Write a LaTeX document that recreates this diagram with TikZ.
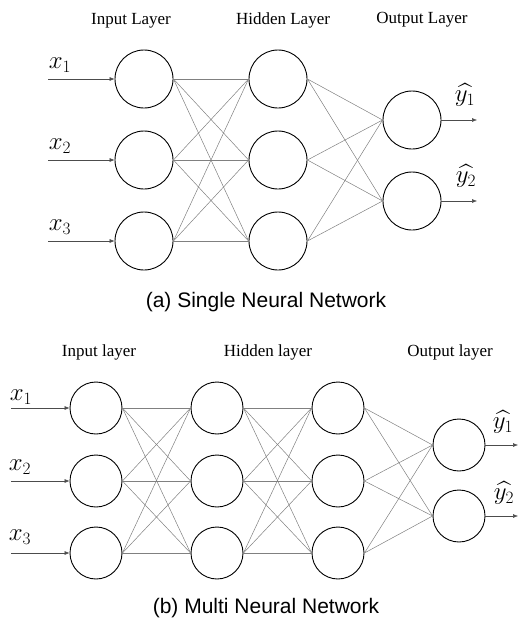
\documentclass[tikz,border=0pt]{standalone}
\usepackage{fontspec}
\usepackage{amsmath}
\setmainfont{Liberation Serif}
\newfontfamily\capfont{Liberation Sans}
\usetikzlibrary{arrows.meta}

\tikzset{
  neuron/.style={draw, circle, line width=0.9pt, minimum size=58pt, inner sep=0pt},
  mneuron/.style={neuron, minimum size=52pt},
  wire/.style={draw=gray, line width=0.5pt},
  feed/.style={draw=black!70, line width=0.5pt, -{Latex[length=5pt,width=4pt]}},
  layertitle/.style={font=\fontsize{17}{19}\selectfont},
  sig/.style={font=\fontsize{26}{28}\selectfont, inner sep=0pt},
  caption/.style={font=\capfont\fontsize{21}{24}\selectfont}
}

\begin{document}
\begin{tikzpicture}[x=1pt,y=-1pt]
  \useasboundingbox (0,0) rectangle (531,621);

  % (a) single network
  \node[layertitle] (tIn) at (131,21) {Input Layer};
  \node[layertitle] (tHid) at (283,20) {Hidden Layer};
  \node[layertitle] (tOut) at (422,20) {Output Layer};

  \node[neuron] (in1) at (144,79) {};
  \node[neuron] (in2) at (144,160) {};
  \node[neuron] (in3) at (144,241) {};
  \node[neuron] (hid1) at (278,79) {};
  \node[neuron] (hid2) at (278,160) {};
  \node[neuron] (hid3) at (278,241) {};
  \node[neuron] (out1) at (412,120) {};
  \node[neuron] (out2) at (412,201) {};

  \foreach \i in {1,2,3}
    \foreach \j in {1,2,3}
      \draw[wire] (in\i.east) -- (hid\j.west);
  \foreach \j in {1,2,3}
    \foreach \k in {1,2}
      \draw[wire] (hid\j.east) -- (out\k.west);

  \coordinate (xs1) at (48,79);
  \coordinate (xs2) at (48,160);
  \coordinate (xs3) at (48,241);
  \coordinate (ye1) at (477,120);
  \coordinate (ye2) at (477,201);
  \foreach \i in {1,2,3}
    \draw[feed] (xs\i) -- (in\i.west);
  \foreach \k in {1,2}
    \draw[feed] (out\k.east) -- (ye\k);

  \node[sig] (x1) at (60,65) {$x_1$};
  \node[sig] (x2) at (60,146) {$x_2$};
  \node[sig] (x3) at (60,227) {$x_3$};
  \node[sig] (y1) at (465,95) {$\widehat{y_1}$};
  \node[sig] (y2) at (466,176) {$\widehat{y_2}$};

  \node[caption] (capA) at (266,302) {(a) Single Neural Network};

  % (b) multi network
  \node[layertitle] (mtIn) at (99,352) {Input layer};
  \node[layertitle] (mtHid) at (268,352) {Hidden layer};
  \node[layertitle] (mtOut) at (450,352) {Output layer};

  \node[mneuron] (mIn1) at (96,408) {};
  \node[mneuron] (mIn2) at (96,481) {};
  \node[mneuron] (mIn3) at (96,553) {};
  \node[mneuron] (mHa1) at (217,408) {};
  \node[mneuron] (mHa2) at (217,481) {};
  \node[mneuron] (mHa3) at (217,553) {};
  \node[mneuron] (mHb1) at (338,408) {};
  \node[mneuron] (mHb2) at (338,481) {};
  \node[mneuron] (mHb3) at (338,553) {};
  \node[mneuron] (mOut1) at (459,445) {};
  \node[mneuron] (mOut2) at (459,516) {};

  \foreach \i in {1,2,3}
    \foreach \j in {1,2,3} {
      \draw[wire] (mIn\i.east) -- (mHa\j.west);
      \draw[wire] (mHa\i.east) -- (mHb\j.west);
    }
  \foreach \j in {1,2,3}
    \foreach \k in {1,2}
      \draw[wire] (mHb\j.east) -- (mOut\k.west);

  \coordinate (mxs1) at (11,408);
  \coordinate (mxs2) at (11,481);
  \coordinate (mxs3) at (11,553);
  \coordinate (mye1) at (518,445);
  \coordinate (mye2) at (518,516);
  \foreach \i in {1,2,3}
    \draw[feed] (mxs\i) -- (mIn\i.west);
  \foreach \k in {1,2}
    \draw[feed] (mOut\k.east) -- (mye\k);

  \node[sig] (mx1) at (21,397) {$x_1$};
  \node[sig] (mx2) at (20,467) {$x_2$};
  \node[sig] (mx3) at (20,537) {$x_3$};
  \node[sig] (my1) at (503,422) {$\widehat{y_1}$};
  \node[sig] (my2) at (504,493) {$\widehat{y_2}$};

  \node[caption] (capB) at (266,608) {(b) Multi Neural Network};
\end{tikzpicture}
\end{document}
